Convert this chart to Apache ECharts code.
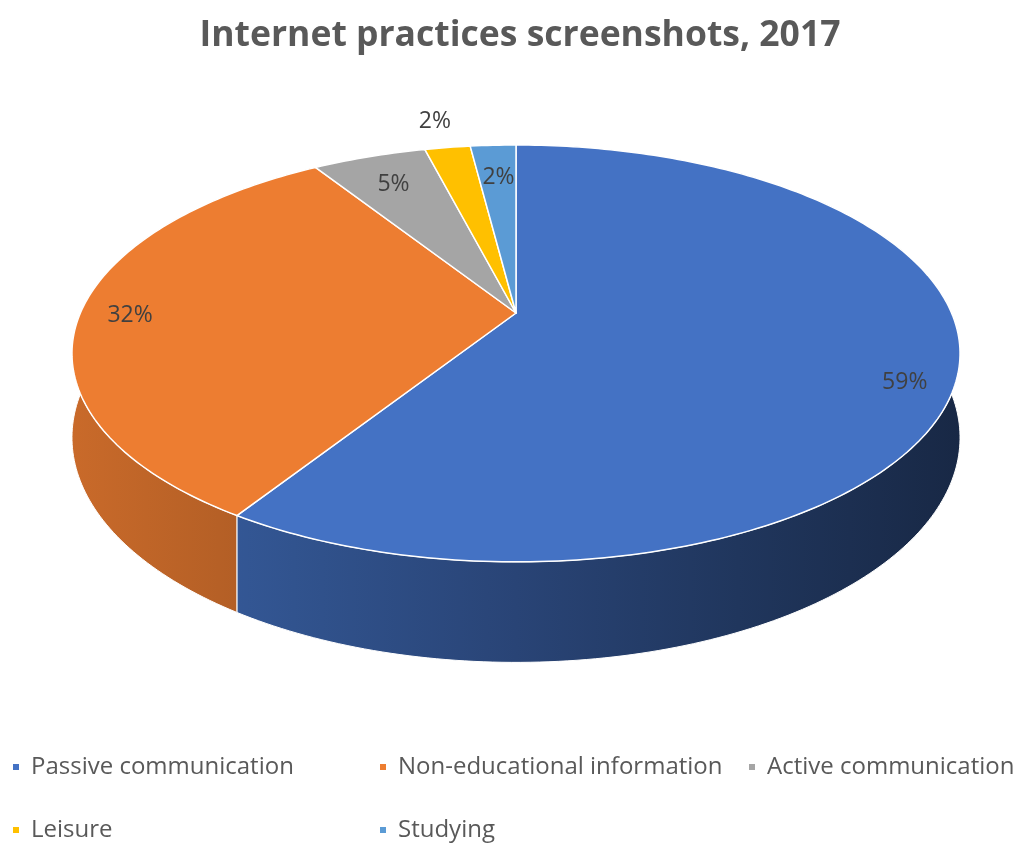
<!DOCTYPE html>
<html>
<head>
<meta charset="utf-8">
<script src="https://cdn.jsdelivr.net/npm/echarts@6/dist/echarts.min.js"></script>
<style>
html,body{margin:0;padding:0;background:#fff;}
#chart{width:1019px;height:845px;}
</style>
</head>
<body>
<div id="chart"></div>
<script>
// ---- data ----
const categories = ['Passive communication', 'Non-educational information', 'Active communication', 'Leisure', 'Studying'];
const shares = [59, 32, 5, 2, 2];
const titleText = 'Internet practices screenshots, 2017';

// ---- style ----
const FONT = "'Open Sans'";
const topColors = ['#4472C4', '#ED7D31', '#A5A5A5', '#FFC000', '#5B9BD5'];
const labelRadius = [0.9, 0.886, 0.81, 1.17, 0.78];
const labelShift = [[-7, 17], [0, 2], [0, 2], [-3, -3], [1, 0]];
const legendPos = [[13, 753], [380, 753], [749, 753], [13, 816], [380, 816]];

// projection of the tilted disc
const CX = 516, CY = 313, RX = 435.6, RY = 200.6, K = 0.194, DEPTH = 81;
function proj(theta, r, down) {
  const X = r * Math.sin(theta), Y = r * Math.cos(theta);
  const s = 1 / (1 + K * Y);
  return [CX + RX * X * s, CY - RY * Y * s + down * DEPTH * s];
}
function shade(hex, f) {
  const n = parseInt(hex.slice(1), 16);
  const r = Math.round(((n >> 16) & 255) * f), g = Math.round(((n >> 8) & 255) * f), b = Math.round((n & 255) * f);
  return 'rgb(' + r + ',' + g + ',' + b + ')';
}
function sideGradient(hex) {
  const stops = [];
  for (let i = 0; i <= 4; i++) {
    const t = i / 4;
    stops.push({ offset: t, color: shade(hex, 0.85 - 0.5 * t) });
  }
  return { type: 'linear', x: CX - RX * 1.02, y: 0, x2: CX + RX * 1.02, y2: 0, global: true, colorStops: stops };
}

const total = shares.reduce((a, b) => a + b, 0);
const starts = [];
shares.reduce((acc, v, i) => { starts[i] = acc; return acc + v; }, 0);

function makeRender(idx) {
  return function (params, api) {
    const v = api.value(0);
    const a0 = starts[idx] / total * Math.PI * 2;
    const a1 = a0 + v / total * Math.PI * 2;
    const n = Math.max(6, Math.ceil((a1 - a0) / (Math.PI / 180)));
    const topArc = [], botArc = [];
    for (let i = 0; i <= n; i++) {
      const t = a0 + (a1 - a0) * i / n;
      topArc.push(proj(t, 1, 0));
      botArc.push(proj(t, 1, 1));
    }
    const side = topArc.concat(botArc.slice().reverse());
    const top = [[CX, CY]].concat(topArc);
    const mid = (a0 + a1) / 2;
    const lp = proj(mid, labelRadius[idx], 0);
    return {
      type: 'group',
      children: [
        { type: 'polygon', shape: { points: side }, z2: 1,
          style: { fill: sideGradient(topColors[idx]), stroke: '#ffffff', lineWidth: 1 } },
        { type: 'polygon', shape: { points: top }, z2: 10,
          style: { fill: topColors[idx], stroke: '#ffffff', lineWidth: 1.5, lineJoin: 'round' } },
        { type: 'text', z2: 20,
          style: { text: Math.round(v / total * 100) + '%', x: lp[0] + labelShift[idx][0], y: lp[1] + labelShift[idx][1],
            fill: '#404040', fontSize: 23, fontFamily: FONT, align: 'center', verticalAlign: 'middle' } }
      ]
    };
  };
}

const series = categories.map((name, i) => ({
  type: 'custom',
  name: name,
  coordinateSystem: 'none',
  itemStyle: { color: topColors[i] },
  renderItem: makeRender(i),
  data: [[shares[i]]],
  silent: true
}));

const legends = categories.map((name, i) => ({
  data: [name],
  left: legendPos[i][0],
  top: legendPos[i][1],
  padding: 0,
  icon: 'rect',
  itemWidth: 6,
  itemHeight: 6,
  selectedMode: false,
  textStyle: { fontFamily: FONT, fontSize: 24, color: '#595959', padding: [0, 0, 0, 7], lineHeight: 28 }
}));

const chart = echarts.init(document.getElementById('chart'), null, { renderer: 'canvas' });
chart.setOption({
  backgroundColor: '#ffffff',
  animation: false,
  title: {
    text: titleText,
    left: 515,
    textAlign: 'center',
    top: 13,
    textStyle: { fontFamily: FONT, fontSize: 35.5, fontWeight: 'bold', color: '#595959' }
  },
  legend: legends,
  series: series
});
</script>
</body>
</html>
